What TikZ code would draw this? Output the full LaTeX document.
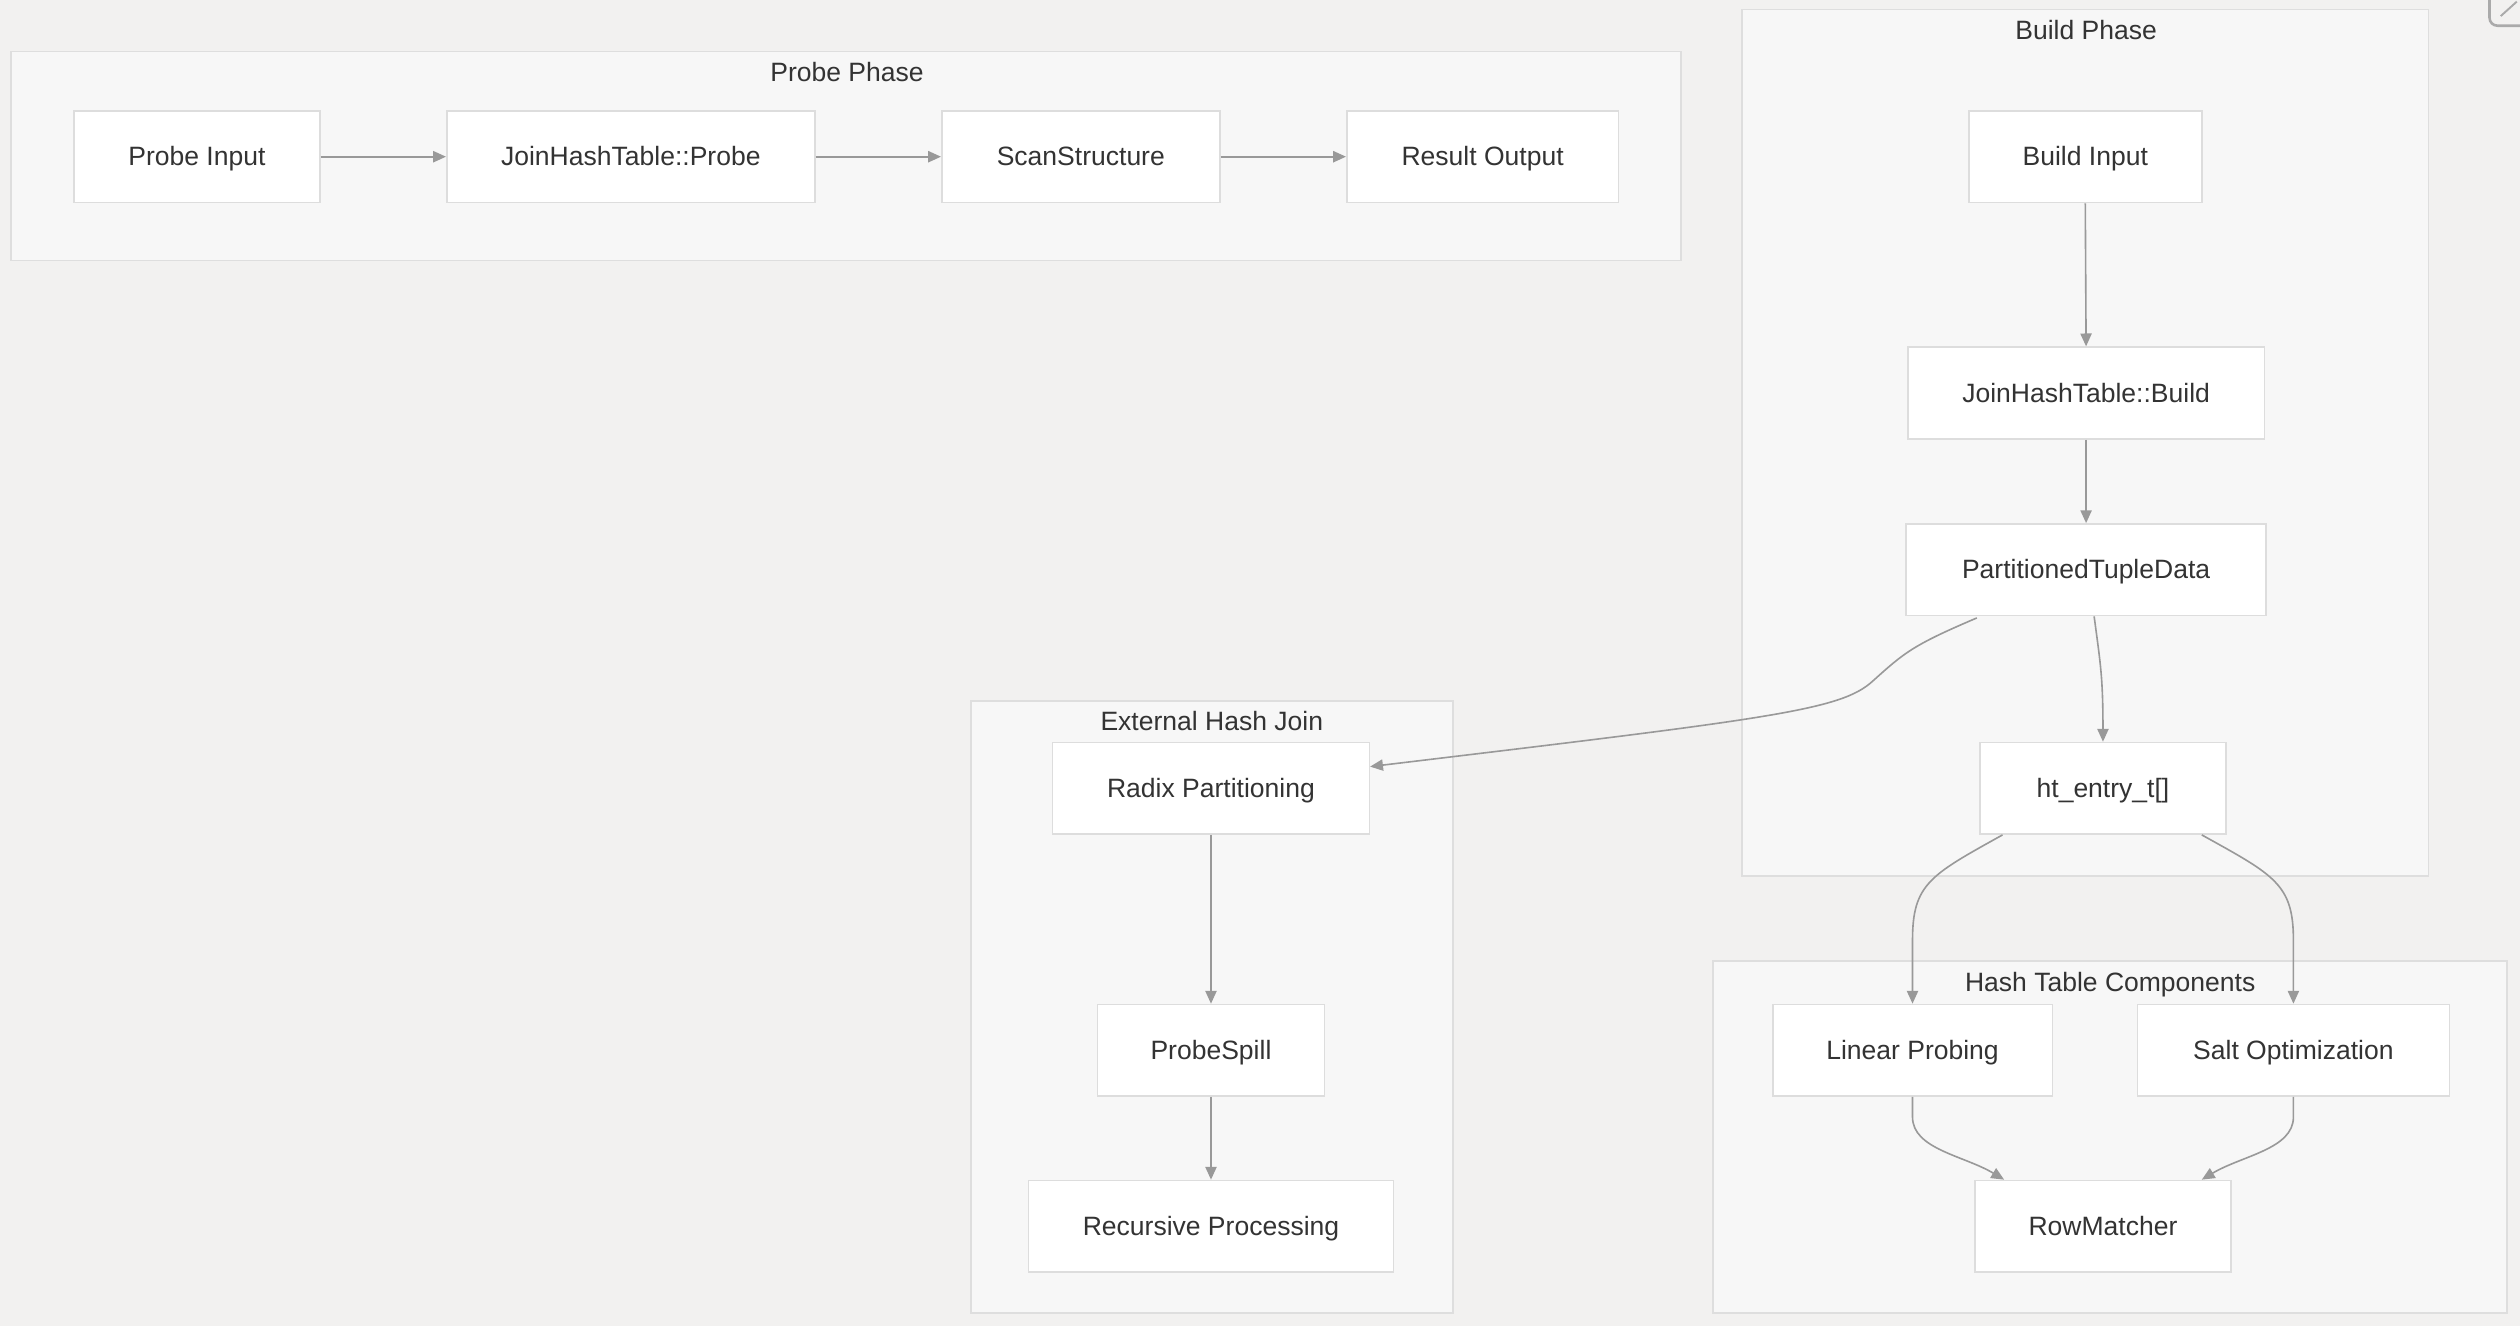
\documentclass[tikz,border=0pt]{standalone}
\usepackage{fontspec}
\setmainfont{Liberation Sans}
\usetikzlibrary{arrows.meta,calc}
\definecolor{bg}{HTML}{F2F1F0}
\definecolor{clfill}{HTML}{F7F7F7}
\definecolor{clline}{HTML}{DEDEDE}
\definecolor{boxline}{HTML}{DDDDDD}
\definecolor{edgecol}{HTML}{999999}
\definecolor{txt}{HTML}{333333}
\definecolor{iconcol}{HTML}{AAAAAA}

\tikzset{
  lbl/.style={font=\fontsize{16.5}{20}\selectfont, text=txt},
  box/.style={lbl, draw=boxline, fill=white, line width=1pt,
    minimum height=57pt, inner sep=0pt, text height=12pt, text depth=0.5pt},
  cluster/.style={draw=clline, fill=clfill, line width=1pt},
  ctitle/.style={lbl, inner sep=0pt, text height=12pt, text depth=0.5pt},
  flow/.style={draw=edgecol, line width=1pt,
    -{Triangle[length=8pt,width=7pt]}},
}

\begin{document}
\begin{tikzpicture}[x=1pt, y=-1pt]
  % page and background
  \fill[bg] (0,0) rectangle (1568,825);
  \useasboundingbox (0,0) rectangle (1568,825);

  % clusters
  \draw[cluster] (7,32) rectangle (1046,162);
  \node[ctitle] (tprobe) at (527,45) {Probe Phase};
  \draw[cluster] (1084,6) rectangle (1511,545);
  \node[ctitle] (tbuild) at (1298,19) {Build Phase};
  \draw[cluster] (604,436) rectangle (904,817);
  \node[ctitle] (text) at (754,449) {External Hash Join};
  \draw[cluster] (1066,598) rectangle (1560,817);
  \node[ctitle] (tht) at (1313,611) {Hash Table Components};

  % probe phase
  \node[box, minimum width=153pt] (pin)  at (122.5,97.5) {Probe Input};
  \node[box, minimum width=229pt] (jhtp) at (392.5,97.5) {JoinHashTable::Probe};
  \node[box, minimum width=173pt] (scan) at (672.5,97.5) {ScanStructure};
  \node[box, minimum width=169pt] (res)  at (922.5,97.5) {Result Output};

  % build phase
  \node[box, minimum width=145pt] (bin)  at (1297.5,97.5) {Build Input};
  \node[box, minimum width=222pt] (jhtb) at (1298,244.5) {JoinHashTable::Build};
  \node[box, minimum width=224pt] (ptd)  at (1298,354.5) {PartitionedTupleData};
  \node[box, minimum width=153pt] (hte)  at (1308.5,490.5) {ht\_entry\_t[]};

  % external hash join
  \node[box, minimum width=197pt] (radix) at (753.5,490.5) {Radix Partitioning};
  \node[box, minimum width=141pt] (spill) at (753.5,653.5) {ProbeSpill};
  \node[box, minimum width=227pt] (rec)   at (753.5,763) {Recursive Processing};

  % hash table components
  \node[box, minimum width=174pt] (lin)  at (1190,653.5) {Linear Probing};
  \node[box, minimum width=194pt] (salt) at (1427,653.5) {Salt Optimization};
  \node[box, minimum width=159pt] (rowm) at (1308.5,763) {RowMatcher};

  % probe chain
  \draw[flow] (pin.east) -- (jhtp.west);
  \draw[flow] (jhtp.east) -- (scan.west);
  \draw[flow] (scan.east) -- (res.west);

  % build chain
  \draw[flow] (bin.south) -- (jhtb.north);
  \draw[flow] (jhtb.south) -- (ptd.north);
  \draw[flow] ($(ptd.south)+(5,0)$) .. controls ($(ptd.south)+(9,30)$)
      and ($(hte.north)+(0,-40)$) .. (hte.north);
  \draw[flow] ($(ptd.south)+(-68,1)$) .. controls ++(-40,17) and ++(20,-18) .. (1165,424)
      .. controls ++(-20,18) and ++(250,-30) .. ($(radix.east)+(0,-13.5)$);

  % spill chain
  \draw[flow] (radix.south) -- (spill.north);
  \draw[flow] (spill.south) -- (rec.north);

  % hash table
  \draw[flow] ($(hte.south)+(-62.5,0)$) .. controls ++(-45,25) and ++(0,-35) .. (lin.north |- 0,585) -- (lin.north);
  \draw[flow] ($(hte.south)+(61.5,0)$) .. controls ++(45,25) and ++(0,-35) .. (salt.north |- 0,585) -- (salt.north);
  \draw[flow] (lin.south) -- (lin.south |- 0,695) .. controls ++(0,20) and ++(-25,-15) .. ($(rowm.north)+(-61.5,0)$);
  \draw[flow] (salt.south) -- (salt.south |- 0,695) .. controls ++(0,20) and ++(25,-15) .. ($(rowm.north)+(61.5,0)$);

  % corner button
  \begin{scope}
    \clip (0,0) rectangle (1568,825);
    \draw[iconcol, line width=1.6pt, rounded corners=5pt] (1549,-12) rectangle (1592,16);
    \draw[iconcol, line width=1.2pt] (1556,10) -- (1566,1);
  \end{scope}
\end{tikzpicture}
\end{document}
